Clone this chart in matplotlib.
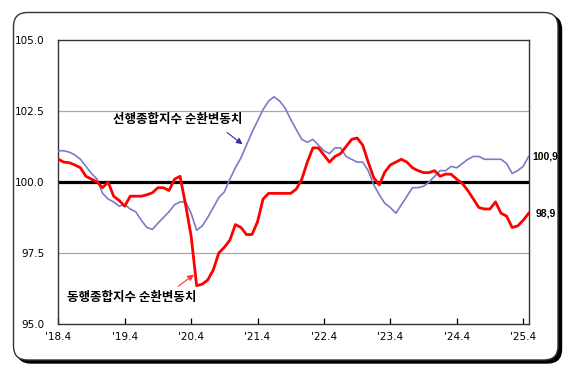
"""
Leading and coincident composite index cycle components, 2018.4 - 2025.5.
"""

import matplotlib
matplotlib.use("Agg")
import matplotlib.pyplot as plt
from matplotlib.patches import FancyBboxPatch

# month index 0 = 2018.4, one point per month
LEADING = [
    101.1, 101.1, 101.05, 100.95, 100.8, 100.55, 100.3, 100.1, 99.6, 99.4,
    99.3, 99.15, 99.2, 99.05, 98.95, 98.65, 98.4, 98.33, 98.55, 98.75,
    98.95, 99.2, 99.3, 99.3, 98.9, 98.3, 98.45, 98.75, 99.1, 99.45,
    99.65, 100.1, 100.5, 100.85, 101.3, 101.75, 102.15, 102.55, 102.85, 103.0,
    102.85, 102.6, 102.2, 101.85, 101.5, 101.4, 101.5, 101.3, 101.1, 101.0,
    101.2, 101.2, 100.9, 100.8, 100.7, 100.7, 100.4, 99.9, 99.55, 99.25,
    99.1, 98.9, 99.2, 99.5, 99.8, 99.8, 99.85, 100.0, 100.2, 100.4,
    100.4, 100.55, 100.5, 100.65, 100.8, 100.9, 100.9, 100.8, 100.8, 100.8,
    100.8, 100.65, 100.3, 100.4, 100.55, 100.9,
]
COINCIDENT = [
    100.8, 100.7, 100.68, 100.6, 100.5, 100.2, 100.1, 100.0, 99.8, 100.0,
    99.5, 99.35, 99.15, 99.5, 99.5, 99.5, 99.55, 99.62, 99.8, 99.8,
    99.7, 100.1, 100.2, 99.2, 98.1, 96.35, 96.4, 96.55, 96.9, 97.5,
    97.7, 97.95, 98.5, 98.4, 98.15, 98.15, 98.6, 99.4, 99.6, 99.6,
    99.6, 99.6, 99.6, 99.75, 100.1, 100.7, 101.2, 101.2, 100.95, 100.7,
    100.9, 101.0, 101.25, 101.5, 101.55, 101.3, 100.7, 100.15, 99.9, 100.35,
    100.6, 100.7, 100.8, 100.7, 100.5, 100.4, 100.33, 100.33, 100.4, 100.2,
    100.28, 100.27, 100.1, 99.95, 99.7, 99.4, 99.1, 99.05, 99.05, 99.3,
    98.9, 98.8, 98.4, 98.45, 98.65, 98.9,
]
TICK_LABELS = ["'18.4", "'19.4", "'20.4", "'21.4", "'22.4", "'23.4", "'24.4", "'25.4"]
Y_TICKS = [95.0, 97.5, 100.0, 102.5, 105.0]
LABEL_LEADING = "선행종합지수 순환변동치"
LABEL_COINCIDENT = "동행종합지수 순환변동치"
END_LEADING = "100,9"
END_COINCIDENT = "98,9"

KR_FONT = ["Noto Sans CJK KR", "DejaVu Sans"]
W, H = 586, 373


def main():
    fig = plt.figure(figsize=(W / 100, H / 100), dpi=100)

    # rounded frame with shadow, drawn in pixel coordinates
    bg = fig.add_axes([0, 0, 1, 1], zorder=0)
    bg.set_xlim(0, W)
    bg.set_ylim(H, 0)
    bg.axis("off")
    bg.add_patch(FancyBboxPatch((17, 15.5), 544.5, 347.5,
                                boxstyle="round,pad=0,rounding_size=14",
                                fc="black", ec="black", lw=1))
    bg.add_patch(FancyBboxPatch((13.5, 12.5), 544.5, 347.5,
                                boxstyle="round,pad=0,rounding_size=14",
                                fc="white", ec="#333333", lw=1))

    ax = fig.add_axes([58.3 / W, 1 - 324 / H, (528.7 - 58.3) / W, (324 - 40) / H], zorder=1)
    x = list(range(len(LEADING)))

    ax.axhline(97.5, color="#a8a8a8", lw=0.9, zorder=1)
    ax.axhline(102.5, color="#a8a8a8", lw=0.9, zorder=1)
    ax.axhline(100.0, color="black", lw=2.3, zorder=2)

    ax.plot(x, LEADING, color="#7a7ac8", lw=1.2, zorder=3)
    ax.plot(x, COINCIDENT, color="#ff0000", lw=2.0, zorder=4)

    ax.set_xlim(0, 85)
    ax.set_ylim(95, 105)
    ax.set_xticks([12 * i for i in range(len(TICK_LABELS))])
    ax.set_xticklabels(TICK_LABELS)
    ax.set_yticks(Y_TICKS)
    ax.set_yticklabels([f"{v:.1f}" for v in Y_TICKS])
    ax.tick_params(axis="y", length=0, pad=10, labelsize=7.5)
    ax.tick_params(axis="x", direction="in", length=4, width=0.9, pad=6, labelsize=7.5)
    for spine in ax.spines.values():
        spine.set_color("#333333")
        spine.set_linewidth(1.0)

    ax.text(9.9, 102.2, LABEL_LEADING, family=KR_FONT, fontsize=9,
            fontweight="bold", ha="left", va="center")
    ax.annotate("", xy=(33.7, 101.27), xytext=(30.1, 101.8),
                arrowprops=dict(arrowstyle="-|>", color="#333399", lw=0.8,
                                mutation_scale=9))
    ax.text(1.5, 95.92, LABEL_COINCIDENT, family=KR_FONT, fontsize=9,
            fontweight="bold", ha="left", va="center")
    ax.annotate("", xy=(24.9, 96.8), xytext=(21.3, 96.27),
                arrowprops=dict(arrowstyle="-|>", color="#ff3333", lw=0.8,
                                mutation_scale=9))

    ax.text(1.007, LEADING[-1], END_LEADING, transform=ax.get_yaxis_transform(),
            family="Liberation Sans", fontsize=7.5, fontweight="bold",
            ha="left", va="center", clip_on=False)
    ax.text(1.014, COINCIDENT[-1], END_COINCIDENT, transform=ax.get_yaxis_transform(),
            family="Liberation Sans", fontsize=7.5, fontweight="bold",
            ha="left", va="center", clip_on=False)

    fig.savefig("out.png", dpi=100)


if __name__ == "__main__":
    main()
